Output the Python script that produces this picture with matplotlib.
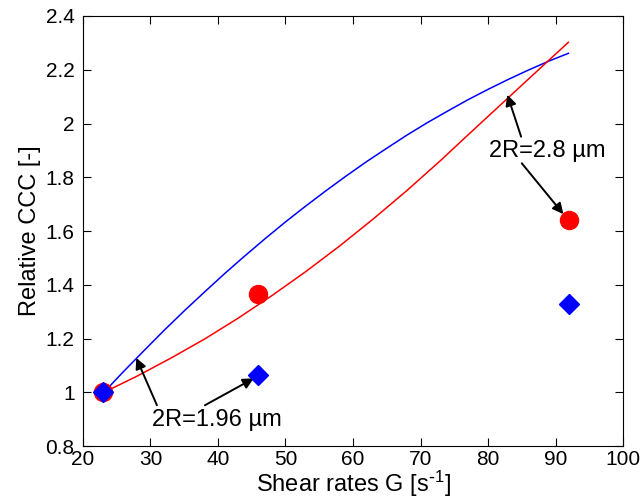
import matplotlib
matplotlib.use("Agg")
import matplotlib.pyplot as plt

# measured points
g_points = [23, 46, 92]
ccc_28 = [1.0, 1.367, 1.64]     # 2R = 2.8 um (red circles)
ccc_196 = [1.0, 1.064, 1.33]    # 2R = 1.96 um (blue diamonds)

# model curves
g_blue = [23.1, 26, 29, 32, 35, 38, 41, 44, 47, 50, 53, 56, 59, 62, 65, 68,
          71, 74, 77, 80, 83, 86, 89, 91.9]
ccc_blue = [1.0, 1.077, 1.154, 1.230, 1.303, 1.373, 1.442, 1.508, 1.572,
            1.634, 1.693, 1.750, 1.805, 1.858, 1.908, 1.957, 2.003, 2.046,
            2.088, 2.127, 2.164, 2.199, 2.232, 2.261]

g_red = [23.1, 28, 33, 38, 43, 48, 53, 58, 63, 68, 73, 75, 78, 83, 88, 91.9]
ccc_red = [1.0, 1.060, 1.127, 1.198, 1.276, 1.360, 1.449, 1.544, 1.645,
           1.751, 1.863, 1.910, 1.980, 2.096, 2.212, 2.302]

plt.rcParams['font.family'] = ['Liberation Sans', 'DejaVu Sans']
plt.rcParams['mathtext.default'] = 'regular'

fig = plt.figure(figsize=(6.43, 4.99), dpi=100)
ax = fig.add_axes([0.129, 0.106, 0.840, 0.862])

ax.plot(g_blue, ccc_blue, color='blue', lw=1.1, zorder=2)
ax.plot(g_red, ccc_red, color='red', lw=1.1, zorder=2)
ax.plot(g_points, ccc_28, 'o', color='red', ms=13, zorder=3)
ax.plot(g_points, ccc_196, 'D', color='blue', ms=10, zorder=4)

arrow = dict(arrowstyle='-|>', color='black', lw=1.4, mutation_scale=16,
             shrinkA=0, shrinkB=0)
ax.text(39.85, 0.897, '2R=1.96 µm', fontsize=17, ha='center', va='center')
ax.annotate('', xy=(27.9, 1.128), xytext=(30.96, 0.952), arrowprops=arrow)
ax.annotate('', xy=(45.3, 1.052), xytext=(38.07, 0.952), arrowprops=arrow)

ax.text(88.7, 1.897, '2R=2.8 µm', fontsize=17, ha='center', va='center')
ax.annotate('', xy=(82.86, 2.107), xytext=(84.9, 1.951), arrowprops=arrow)
ax.annotate('', xy=(91.16, 1.663), xytext=(85.0, 1.852), arrowprops=arrow)

ax.set_xlim(20, 100)
ax.set_ylim(0.8, 2.4)
ax.set_xticks(range(20, 101, 10))
ax.set_yticks([0.8, 1.0, 1.2, 1.4, 1.6, 1.8, 2.0, 2.2, 2.4])
ax.set_yticklabels(['0.8', '1', '1.2', '1.4', '1.6', '1.8', '2', '2.2', '2.4'])
ax.tick_params(direction='in', top=True, right=True, length=6, labelsize=15)
ax.tick_params(axis='x', pad=3)
ax.tick_params(axis='y', pad=6)
ax.set_xlabel('Shear rates G [s$^{\\text{-}1}$]', fontsize=17, labelpad=0)
ax.set_ylabel('Relative CCC [-]', fontsize=17, labelpad=3)

fig.savefig('out.png', dpi=100)
